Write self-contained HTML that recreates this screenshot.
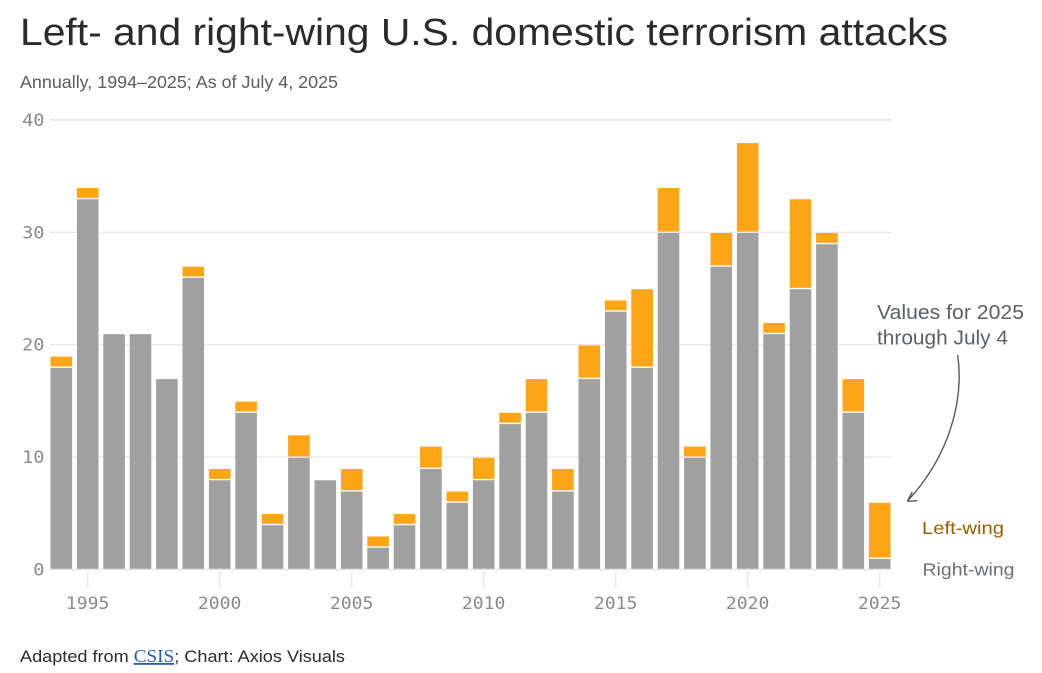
<!DOCTYPE html>
<html>
<head>
<meta charset="utf-8">
<style>
html,body{margin:0;padding:0;background:#fff;width:1042px;height:673px;overflow:hidden}
svg{display:block}
text{font-family:"Liberation Sans",sans-serif}
.mono{font-family:"DejaVu Sans Mono","Liberation Mono",monospace;fill:#8a8a8a}
a{cursor:pointer}
</style>
</head>
<body>
<svg id="chart" width="1042" height="673" viewBox="0 0 1042 673" xmlns="http://www.w3.org/2000/svg">
  <text x="20" y="45" font-size="38" fill="#2b2b2f" textLength="928" lengthAdjust="spacingAndGlyphs">Left- and right-wing U.S. domestic terrorism attacks</text>
  <text x="20" y="88" font-size="17.5" fill="#5b5b60" textLength="318" lengthAdjust="spacingAndGlyphs">Annually, 1994–2025; As of July 4, 2025</text>
  <g id="grid"></g>
  <g id="ticks"></g>
  <g id="bars"></g>
  <text x="877" y="319" font-size="20" fill="#5b6068" stroke="#fff" stroke-width="2" paint-order="stroke" textLength="147" lengthAdjust="spacingAndGlyphs">Values for 2025</text>
  <text x="877" y="344.5" font-size="20" fill="#5b6068" stroke="#fff" stroke-width="2" paint-order="stroke" textLength="131" lengthAdjust="spacingAndGlyphs">through July 4</text>
  <path d="M957.7 355 C964 400 950 455 907.3 501.3 M907.3 501.3 L917.3 500.7 M907.3 501.3 L912.3 492" fill="none" stroke="#55595f" stroke-width="1.4"/>
  <text x="922" y="534" font-size="17.5" fill="#9a5c00" textLength="82" lengthAdjust="spacingAndGlyphs">Left-wing</text>
  <text x="922.5" y="575.5" font-size="17.5" fill="#6b7075" textLength="92" lengthAdjust="spacingAndGlyphs">Right-wing</text>
  <text x="20" y="662" font-size="17" fill="#2b2b2f" textLength="325" lengthAdjust="spacingAndGlyphs">Adapted from <tspan font-family="Liberation Serif" font-size="18" fill="#2a5db0" text-decoration="underline">CSIS</tspan>; Chart: Axios Visuals</text>
</svg>
<script>
const years = [1994,1995,1996,1997,1998,1999,2000,2001,2002,2003,2004,2005,2006,2007,2008,2009,2010,2011,2012,2013,2014,2015,2016,2017,2018,2019,2020,2021,2022,2023,2024,2025];
const rightWing = [18,33,21,21,17,26,8,14,4,10,8,7,2,4,9,6,8,13,14,7,17,23,18,30,10,27,30,21,25,29,14,1];
const leftWing = [1,1,0,0,0,1,1,1,1,2,0,2,1,1,2,1,2,1,3,2,3,1,7,4,1,3,8,1,8,1,3,5];
const yTicks = [0,10,20,30,40];
const xTicks = [1995,2000,2005,2010,2015,2020,2025];

const NS = 'http://www.w3.org/2000/svg';
const xScale = y => 87.7 + (y - 1995) * 26.4;
const yScale = v => 569.5 - v * 11.24;
const barW = 21.6;
const inset = 0.7;

function make(tag, parent, props, text) {
  const el = document.createElementNS(NS, tag);
  for (const k in props) el.setAttribute(k, props[k]);
  if (text !== undefined) el.textContent = text;
  parent.appendChild(el);
  return el;
}

const grid = document.getElementById('grid');
yTicks.forEach(t => {
  const line = make('line', grid, {x1: 50, x2: 892, y1: yScale(t), y2: yScale(t), stroke: '#e6e6e6', 'stroke-width': t === 40 ? 1.6 : 1.2});
  
  
  const label = make('text', grid, {x: 44.5, y: yScale(t) + 6, 'text-anchor': 'end', 'font-size': 17, class: 'mono', textLength: String(t).length * 11.2, lengthAdjust: 'spacingAndGlyphs'}, String(t));
  
  
});

const ticks = document.getElementById('ticks');
xTicks.forEach(t => {
  const line = make('line', ticks, {x1: xScale(t), x2: xScale(t), y1: 571, y2: 588, stroke: '#e6e6e6', 'stroke-width': 1.3});
  
  
  const label = make('text', ticks, {x: xScale(t), y: 609, 'text-anchor': 'middle', 'font-size': 17, class: 'mono', textLength: 43.5, lengthAdjust: 'spacingAndGlyphs'}, String(t));
  
  
});

const bars = document.getElementById('bars');
years.forEach((yr, i) => {
  const x = xScale(yr) - barW / 2;
  const r = rightWing[i], l = leftWing[i];
  const rTop = yScale(r) + inset;
  const rect = make('rect', bars, {x: x, y: rTop, width: barW, height: yScale(0) - inset - rTop, fill: '#a0a0a0'});
  
  
  if (l > 0) {
    const lTop = yScale(r + l) + inset;
    const lRect = make('rect', bars, {x: x, y: lTop, width: barW, height: yScale(r) - inset - lTop, fill: '#ffa516'});
    
    
  }
});
</script>
</body>
</html>
